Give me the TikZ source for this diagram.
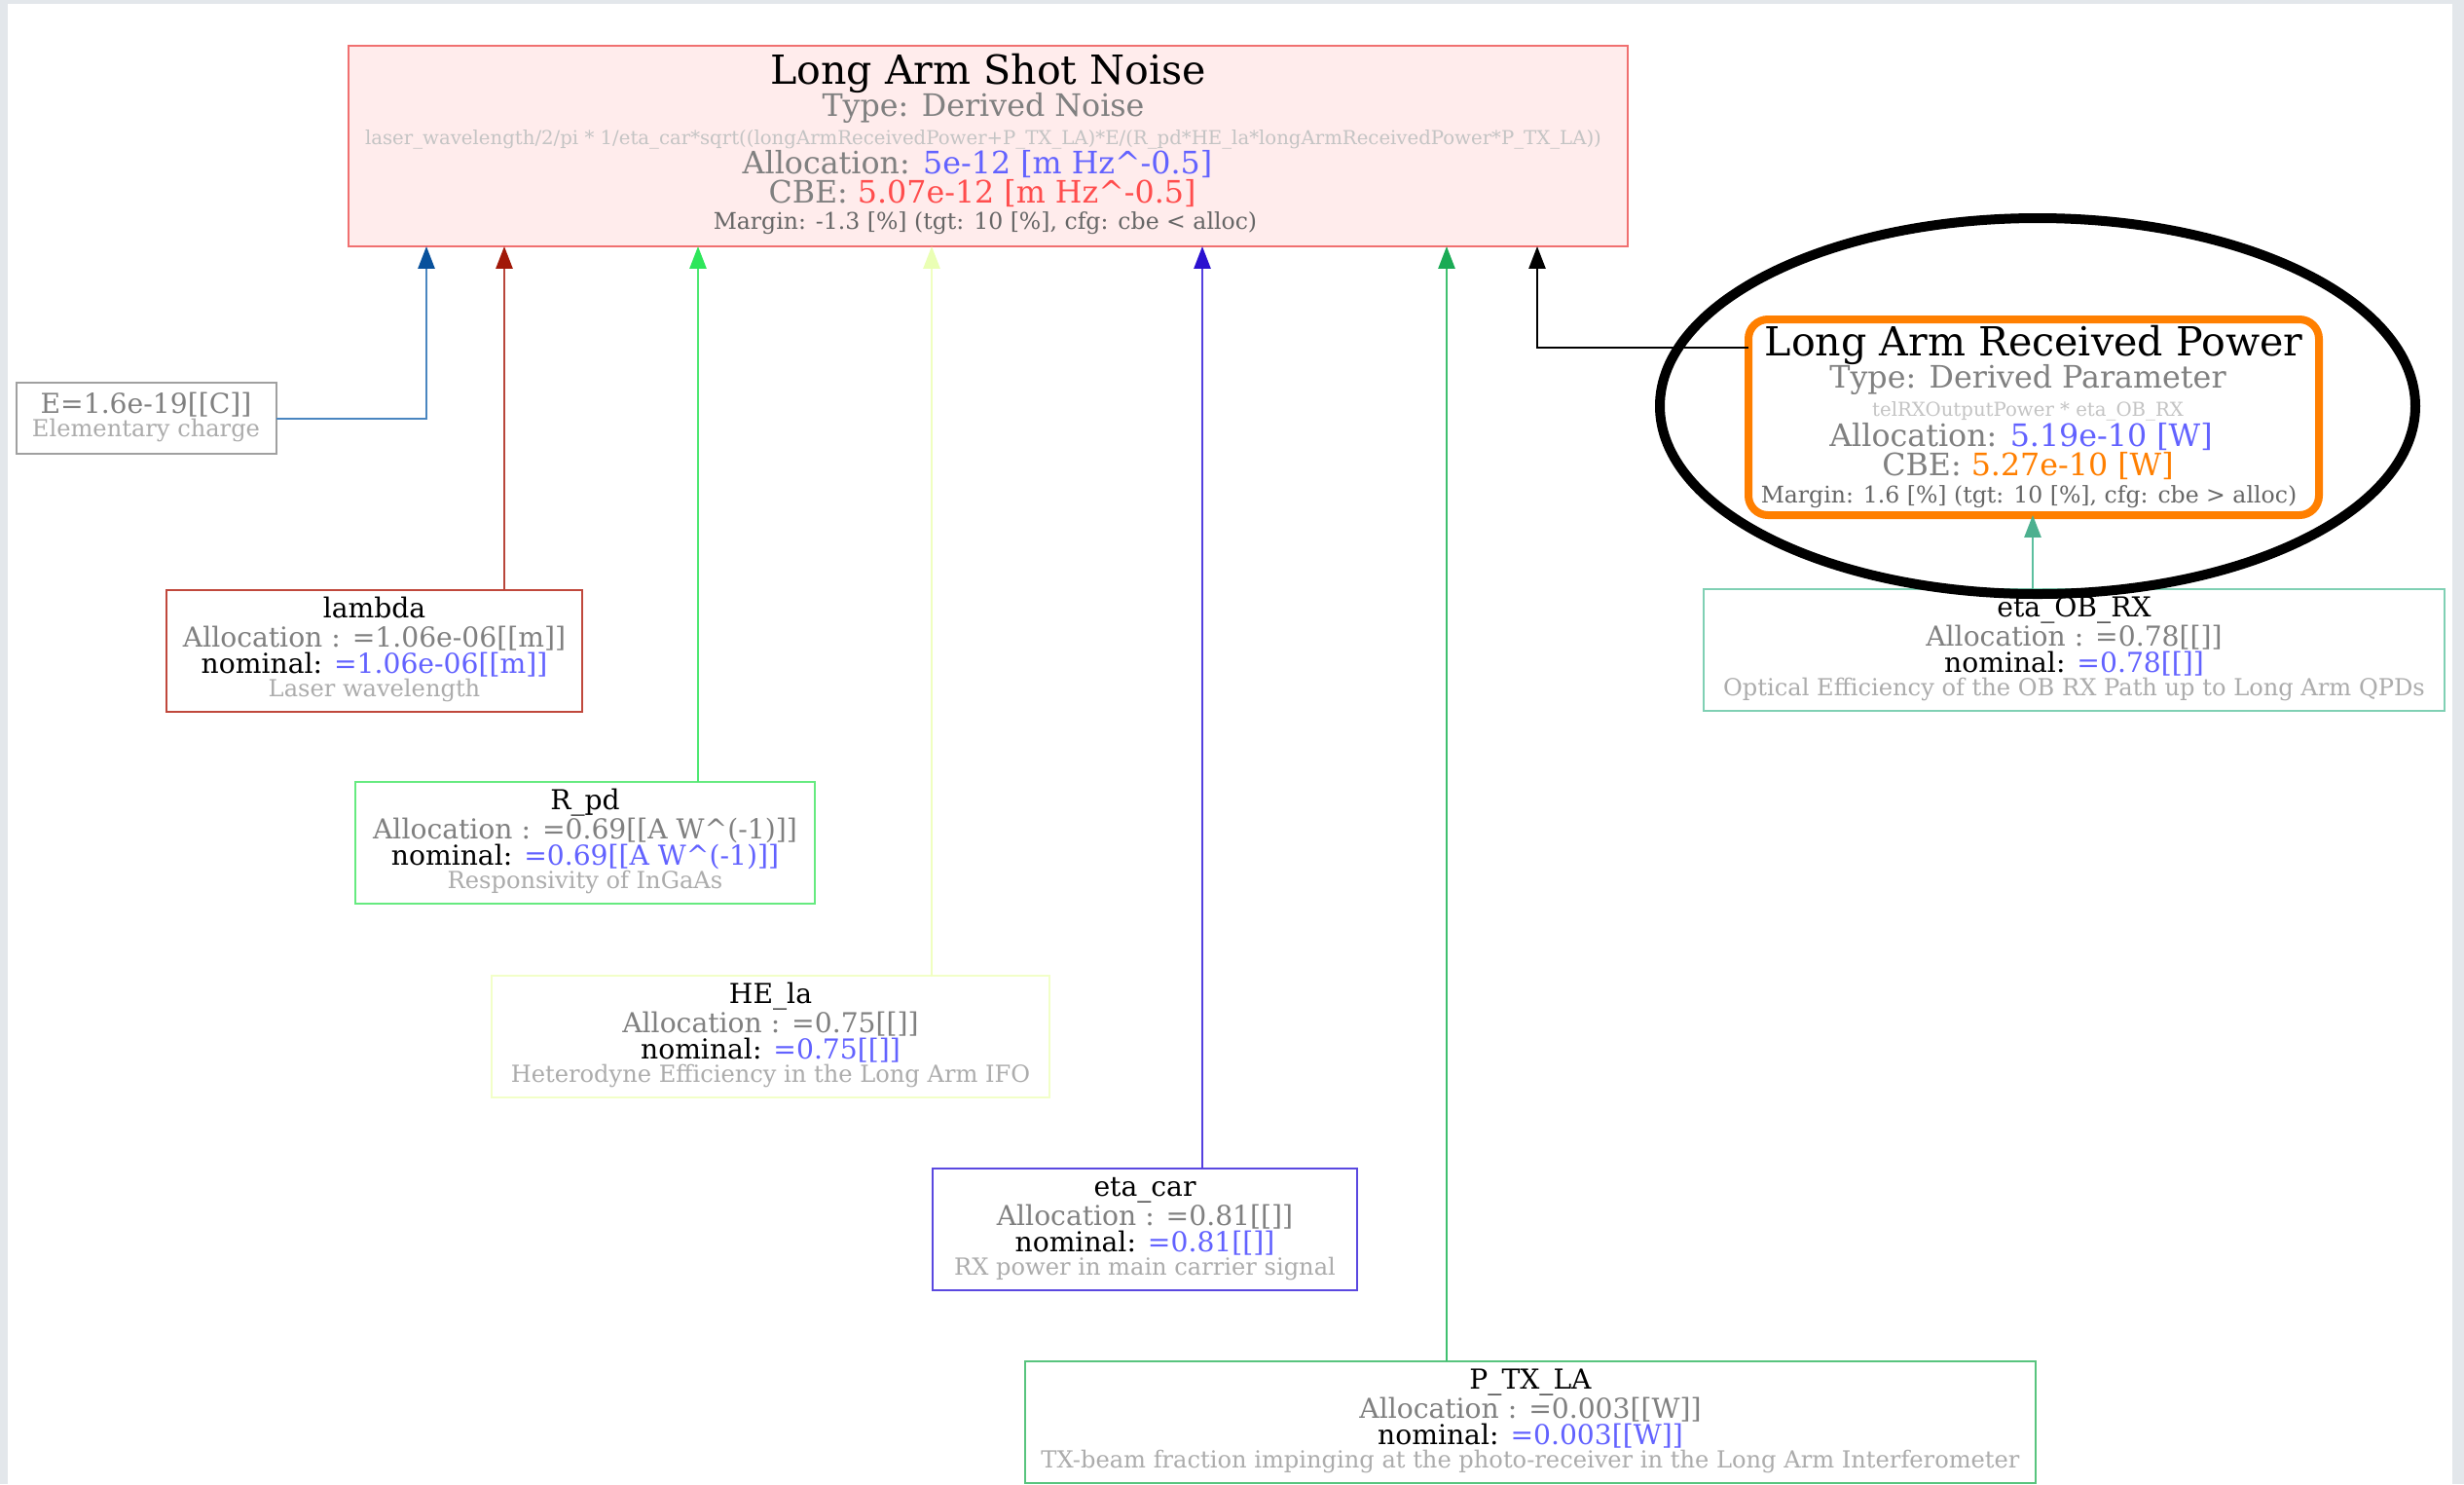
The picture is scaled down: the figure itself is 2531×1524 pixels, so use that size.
\documentclass[tikz,border=0pt]{standalone}
\usepackage{fontspec}
\setmainfont{DejaVu Serif}
\usetikzlibrary{arrows.meta,shapes.geometric}

% palette
\definecolor{pagegrey}{HTML}{E3E7EB}
\definecolor{txtgrey}{HTML}{808080}
\definecolor{txtlight}{HTML}{C4C4C4}
\definecolor{txtdesc}{HTML}{ACACAC}
\definecolor{txtmargin}{HTML}{666666}
\definecolor{valblue}{HTML}{6262FF}
\definecolor{valred}{HTML}{FF4D4D}
\definecolor{valorange}{HTML}{FF7F00}
\definecolor{snfill}{HTML}{FFECEC}
\definecolor{snline}{HTML}{F07070}
\definecolor{egrey}{HTML}{A0A0A0}
\definecolor{lamline}{HTML}{C0483C}
\definecolor{rpdline}{HTML}{66EA80}
\definecolor{healine}{HTML}{F2FFC8}
\definecolor{carline}{HTML}{5A48E0}
\definecolor{ptxline}{HTML}{58C47E}
\definecolor{obline}{HTML}{80D0B4}
% connector line / head colours
\definecolor{eEl}{HTML}{4A86C0}\definecolor{eEh}{HTML}{08519C}
\definecolor{eLl}{HTML}{B8463A}\definecolor{eLh}{HTML}{A11808}
\definecolor{eRl}{HTML}{4EE872}\definecolor{eRh}{HTML}{2EE65A}
\definecolor{eHl}{HTML}{F0FFC0}\definecolor{eHh}{HTML}{EAFFB4}
\definecolor{eCl}{HTML}{5540E0}\definecolor{eCh}{HTML}{2A10D0}
\definecolor{ePl}{HTML}{40C070}\definecolor{ePh}{HTML}{1AAB55}
\definecolor{eOl}{HTML}{5CBF9F}\definecolor{eOh}{HTML}{4CB08F}

% font sizes
\newcommand\fTitle{\fontsize{14.4pt}{16pt}\selectfont}
\newcommand\fSec{\fontsize{11.1pt}{13pt}\selectfont}
\newcommand\fMargin{\fontsize{8.25pt}{9.5pt}\selectfont}
\newcommand\fFormula{\fontsize{6.9pt}{8pt}\selectfont}
\newcommand\fMain{\fontsize{9.87pt}{11.5pt}\selectfont}
\newcommand\fDesc{\fontsize{8.45pt}{9.5pt}\selectfont}

\tikzset{
  sz/.style 2 args={minimum width=#1*0.35pt, minimum height=#2*0.35pt},
  box/.style={draw=#1, rectangle, inner sep=0pt, outer sep=0pt, line width=0.7pt, fill=white},
  txt/.style={anchor=base, inner sep=0pt, outer sep=0pt},
  link/.style 2 args={draw=#1, line width=0.7pt,
    -{Triangle[length=8pt,width=6pt,color=#2]}},
}

\begin{document}
\begin{tikzpicture}[x=0.35pt,y=-0.35pt]
% page
\fill[pagegrey] (0,0) rectangle (2531,1524);
\fill[white] (8,4) rectangle (2519,1524);
\useasboundingbox (0,0) rectangle (2531,1524);

% ---- derived noise ----
\node[box=snline, fill=snfill, line width=0.9pt, sz={1314}{206}] (sn) at (1015,150) {};
\node[txt, font=\fTitle] (sn-t) at (1015,86) {Long Arm Shot Noise};
\node[txt, font=\fSec, text=txtgrey] (sn-ty) at (1010,119) {Type: Derived Noise};
\node[txt, font=\fFormula, text=txtlight] (sn-f) at (1010,148)
  {laser\_wavelength/2/pi * 1/eta\_car*sqrt((longArmReceivedPower+P\_TX\_LA)*E/(R\_pd*HE\_la*longArmReceivedPower*P\_TX\_LA))};
\node[txt, font=\fSec, text=txtgrey] (sn-a) at (1004,178) {Allocation: \textcolor{valblue}{5e-12 [m Hz\textasciicircum-0.5]}};
\node[txt, font=\fSec, text=txtgrey] (sn-c) at (1009,208) {CBE: \textcolor{valred}{5.07e-12 [m Hz\textasciicircum-0.5]}};
\node[txt, font=\fMargin, text=txtmargin] (sn-m) at (1012,235) {Margin: -1.3 [\%] (tgt: 10 [\%], cfg: cbe < alloc)};

% ---- derived parameter ----
\node[box=valorange, line width=2.8pt, rounded corners=7pt, sz={586}{201}] (larp) at (2089,428.5) {};
\node[txt, font=\fTitle] (larp-t) at (2089,365) {Long Arm Received Power};
\node[txt, font=\fSec, text=txtgrey] (larp-ty) at (2083,398) {Type: Derived Parameter};
\node[txt, font=\fFormula, text=txtlight] (larp-f) at (2083,427) {telRXOutputPower * eta\_OB\_RX};
\node[txt, font=\fSec, text=txtgrey] (larp-a) at (2076,458) {Allocation: \textcolor{valblue}{5.19e-10 [W]}};
\node[txt, font=\fSec, text=txtgrey] (larp-c) at (2083,488) {CBE: \textcolor{valorange}{5.27e-10 [W]}};
\node[txt, font=\fMargin, text=txtmargin] (larp-m) at (2084,516) {Margin: 1.6 [\%] (tgt: 10 [\%], cfg: cbe > alloc)};

% ---- constant ----
\node[box=egrey, sz={267}{73}] (ebox) at (150,429.5) {};
\node[txt, font=\fMain, text=txtgrey] (ebox-v) at (150,424) {E=1.6e-19[[C]]};
\node[txt, font=\fDesc, text=txtdesc] (ebox-d) at (150,448) {Elementary charge};

% ---- parameters ----
\newcommand\param[8]{%
  % #1 name, #2 colour, #3 cx, #4 top, #5 width, #6 title, #7 value, #8 description
  \node[box=#2, sz={#5}{125}, anchor=north] (#1) at (#3,#4) {};
  \node[txt, font=\fMain] (#1-t) at (#3,#4+28) {#6};
  \node[txt, font=\fMain, text=txtgrey] (#1-a) at (#3,#4+58) {Allocation : =#7};
  \node[txt, font=\fMain] (#1-n) at (#3,#4+85) {nominal: \textcolor{valblue}{=#7}};
  \node[txt, font=\fDesc, text=txtdesc] (#1-d) at (#3,#4+109) {#8};
}
\param{lam}{lamline}{384.5}{606}{427}{lambda}{1.06e-06[[m]]}{Laser wavelength}
\param{rpd}{rpdline}{601}{803}{472}{R\_pd}{0.69[[A W\textasciicircum(-1)]]}{Responsivity of InGaAs}
\param{hela}{healine}{791.5}{1002}{573}{HE\_la}{0.75[[]]}{Heterodyne Efficiency in the Long Arm IFO}
\param{car}{carline}{1176}{1200}{436}{eta\_car}{0.81[[]]}{RX power in main carrier signal}
\param{ptx}{ptxline}{1572}{1398}{1038}{P\_TX\_LA}{0.003[[W]]}{TX-beam fraction impinging at the photo-receiver in the Long Arm Interferometer}
\param{obrx}{obline}{2130.5}{605}{761}{eta\_OB\_RX}{0.78[[]]}{Optical Efficiency of the OB RX Path up to Long Arm QPDs}

% ---- connectors ----
\draw[link={eEl}{eEh}] (ebox.east) -| (sn.south -| 438,0);
\draw[link={eLl}{eLh}] (lam.north -| 518,0) -- (sn.south -| 518,0);
\draw[link={eRl}{eRh}] (rpd.north -| 717,0) -- (sn.south -| 717,0);
\draw[link={eHl}{eHh}] (hela.north -| 957,0) -- (sn.south -| 957,0);
\draw[link={eCl}{eCh}] (car.north -| 1235,0) -- (sn.south -| 1235,0);
\draw[link={ePl}{ePh}] (ptx.north -| 1486,0) -- (sn.south -| 1486,0);
\draw[link={black}{black}] (larp.west |- 0,357) -| (sn.south -| 1579,0);
\draw[link={eOl}{eOh}] (obrx.north -| 2088,0) -- (larp.south -| 2088,0);

% ---- highlight ring ----
\node[draw=black, line width=3.5pt, ellipse, inner sep=0pt, sz={776}{386}] (ring) at (2093,417) {};
\end{tikzpicture}
\end{document}
